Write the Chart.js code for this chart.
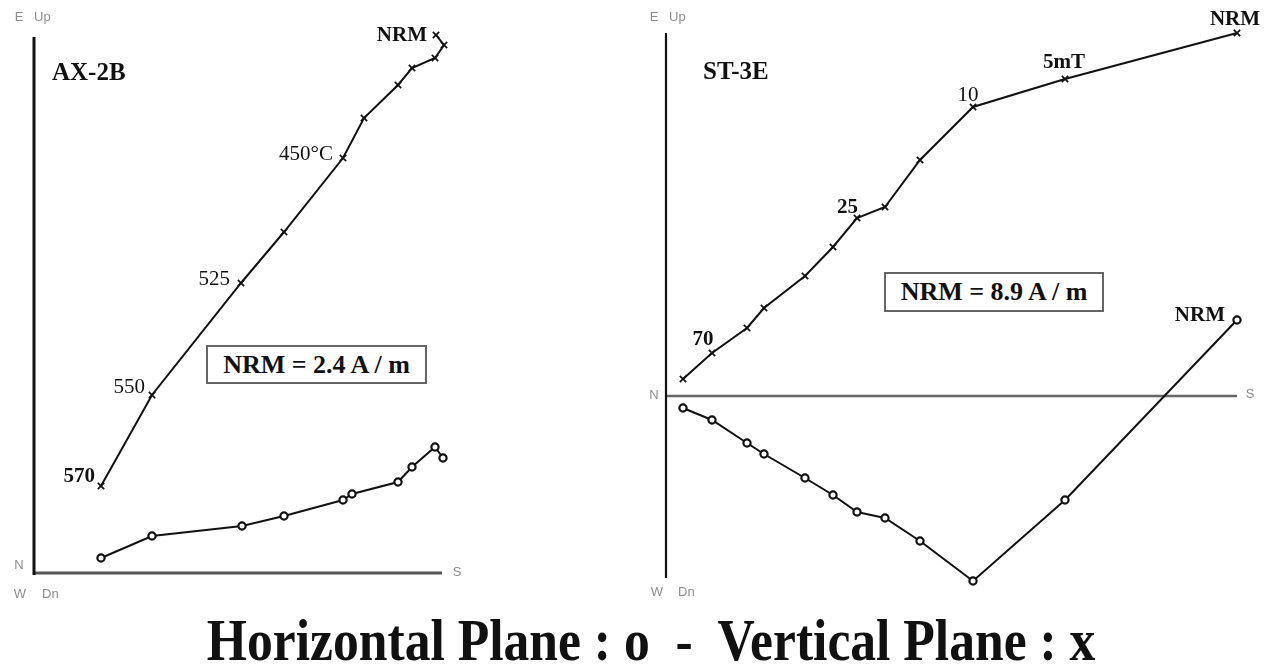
<!DOCTYPE html>
<html>
<head>
<meta charset="utf-8">
<title>Zijderveld diagrams AX-2B / ST-3E</title>
<script src="https://cdn.jsdelivr.net/npm/chart.js@4.4.1/dist/chart.umd.min.js"></script>
<style>
  html, body { margin: 0; padding: 0; background: #fff; }
  body { width: 1271px; height: 667px; position: relative; overflow: hidden; }
  canvas { position: absolute; top: 0; }
  #zLeft { left: 0; }
  #zRight { left: 630px; }
  .nrm-box {
    position: absolute; box-sizing: border-box;
    border: 2px solid #666; background: #fff;
    font: bold 26px "Liberation Serif", "Times New Roman", serif;
    color: #111; text-align: center; white-space: pre;
  }
  #title {
    position: absolute; left: 15px; width: 1271px; top: 610px;
    text-align: center; white-space: pre;
    font: bold 60px "Liberation Serif", "Times New Roman", serif;
    color: #111; transform: scaleX(0.86); transform-origin: 640px 0;
    line-height: 60px;
  }
</style>
</head>
<body>
<canvas id="zLeft" width="630" height="610"></canvas>
<canvas id="zRight" width="641" height="610"></canvas>
<div class="nrm-box" style="left:206px;top:345px;width:221px;height:39px;line-height:35px;">NRM = 2.4 A / m</div>
<div class="nrm-box" style="left:884px;top:272px;width:220px;height:40px;line-height:36px;">NRM = 8.9 A / m</div>
<div id="title">Horizontal Plane : o  -  Vertical Plane : x</div>
<script>
// ---- AX-2B (thermal demagnetisation), components in plot units ----
// vertical plane (N-S vs Up-Dn), NRM first
const axVertNS   = [402, 410, 401, 378, 364, 330, 309, 250, 207, 118, 67];
const axVertUp   = [538, 528, 515, 505, 488, 455, 415, 341, 290, 178, 87];
const axVertTags = ['NRM', '', '', '', '', '', '450°C', '', '525', '550', '570'];
// horizontal plane (N-S vs E-W)
const axHorNS    = [409, 401, 378, 364, 318, 309, 250, 208, 118, 67];
const axHorEW    = [115, 126, 106, 91, 79, 73, 57, 47, 37, 15];

// ---- ST-3E (alternating field demagnetisation), NRM first ----
const stNS       = [571, 399, 307, 254, 219, 191, 167, 139, 98, 81, 46, 17];
const stVertUp   = [363, 317, 289, 236, 189, 178, 149, 120, 88, 68, 43, 17];
const stHorEW    = [76, -104, -185, -145, -122, -116, -99, -82, -58, -47, -24, -12];
const stVertTags = ['NRM', '5mT', '10', '', '', '25', '', '', '', '', '70', ''];
const stHorTags  = ['NRM', '', '', '', '', '', '', '', '', '', '', ''];

const pts = (xs, ys) => xs.map((v, i) => ({ x: v, y: ys[i] }));

const vertStyle = {
  showLine: true, borderColor: '#111', borderWidth: 2,
  pointStyle: 'crossRot', pointRadius: 4.5, pointBorderWidth: 1.7,
  pointBorderColor: '#111', pointBackgroundColor: '#111', clip: false
};
const horStyle = {
  showLine: true, borderColor: '#111', borderWidth: 2,
  pointStyle: 'circle', pointRadius: 3.6, pointBorderWidth: 2.2,
  pointBorderColor: '#111', pointBackgroundColor: '#fff', clip: false
};

// Draws the crossing axes, their direction letters and the step labels.
const zijderveld = {
  id: 'zijderveld',
  beforeDatasetsDraw(chart, args, o) {
    const { ctx, scales: { x, y } } = chart;
    const x0 = x.getPixelForValue(0), y0 = y.getPixelForValue(0);
    ctx.save();
    ctx.lineCap = 'butt';
    ctx.strokeStyle = o.nsColor; ctx.lineWidth = o.nsWidth;
    ctx.beginPath();
    ctx.moveTo(x0, y0); ctx.lineTo(x.getPixelForValue(o.nsEnd), y0);
    ctx.stroke();
    ctx.strokeStyle = '#111'; ctx.lineWidth = o.udWidth;
    ctx.beginPath();
    ctx.moveTo(x0, y.getPixelForValue(o.udTop));
    ctx.lineTo(x0, y.getPixelForValue(o.udBottom));
    ctx.stroke();
    ctx.restore();
  },
  afterDatasetsDraw(chart, args, o) {
    const { ctx, scales: { x, y } } = chart;
    const x0 = x.getPixelForValue(0), y0 = y.getPixelForValue(0);
    const top = y.getPixelForValue(o.udTop), bot = y.getPixelForValue(o.udBottom);
    const xe = x.getPixelForValue(o.nsEnd);
    ctx.save();
    ctx.fillStyle = '#8c8c8c';
    ctx.font = '13px "Liberation Sans", Arial, sans-serif';
    ctx.textBaseline = 'middle';
    const d = o.dir;
    ctx.textAlign = 'center';
    ctx.fillText('E', x0 + d.e[0], top + d.e[1]);
    ctx.fillText('W', x0 + d.w[0], bot + d.w[1]);
    ctx.fillText('N', x0 + d.n[0], y0 + d.n[1]);
    ctx.fillText('S', xe + d.s[0], y0 + d.s[1]);
    ctx.textAlign = 'left';
    ctx.fillText('Up', x0 + d.up[0], top + d.up[1]);
    ctx.fillText('Dn', x0 + d.dn[0], bot + d.dn[1]);

    // specimen name
    ctx.fillStyle = '#111';
    ctx.font = 'bold 25px "Liberation Serif", "Times New Roman", serif';
    ctx.textAlign = 'left';
    ctx.fillText(o.name, x0 + o.nameAt[0], top + o.nameAt[1]);

    // demagnetisation step labels, anchored on their points
    o.tags.forEach(t => {
      const data = chart.data.datasets[t.ds].data;
      t.text.forEach((s, i) => {
        if (!s) return;
        const st = t.style[s] || {};
        const px = x.getPixelForValue(data[i].x), py = y.getPixelForValue(data[i].y);
        ctx.font = (st.bold ? 'bold ' : '') + '21px "Liberation Serif", "Times New Roman", serif';
        ctx.textAlign = st.align || 'center';
        ctx.fillText(s, px + st.dx, py + st.dy);
      });
    });
    ctx.restore();
  }
};

function makeChart(id, datasets, scaleX, scaleY, pad, opts) {
  return new Chart(document.getElementById(id), {
    type: 'scatter',
    data: { datasets },
    options: {
      responsive: false, animation: false,
      layout: { padding: pad },
      scales: {
        x: { type: 'linear', display: false, min: scaleX[0], max: scaleX[1] },
        y: { type: 'linear', display: false, min: scaleY[0], max: scaleY[1] }
      },
      plugins: { legend: { display: false }, tooltip: { enabled: false }, zijderveld: opts }
    },
    plugins: [zijderveld]
  });
}

makeChart('zLeft', [
  Object.assign({ label: 'Vertical plane', data: pts(axVertNS, axVertUp) }, vertStyle),
  Object.assign({ label: 'Horizontal plane', data: pts(axHorNS, axHorEW) }, horStyle)
], [0, 408], [0, 536], { left: 34, right: 188, top: 37, bottom: 37 }, {
  nsEnd: 408, udTop: 536, udBottom: -2, nsColor: '#555', nsWidth: 3, udWidth: 3,
  dir: { e: [-15, -20], up: [0, -20], w: [-14, 19], dn: [8, 19], n: [-15, -8], s: [15, -1] },
  name: 'AX-2B', nameAt: [18, 37],
  tags: [{ ds: 0, text: axVertTags, style: {
    'NRM': { bold: true, align: 'right', dx: -9, dy: 1 },
    '450°C': { align: 'right', dx: -10, dy: -4 },
    '525': { align: 'right', dx: -11, dy: -4 },
    '550': { align: 'right', dx: -7, dy: -8 },
    '570': { bold: true, align: 'right', dx: -6, dy: -9 }
  } }]
});

makeChart('zRight', [
  Object.assign({ label: 'Vertical plane', data: pts(stNS, stVertUp) }, vertStyle),
  Object.assign({ label: 'Horizontal plane', data: pts(stNS, stHorEW) }, horStyle)
], [0, 571], [-182, 363], { left: 36, right: 34, top: 33, bottom: 32 }, {
  nsEnd: 571, udTop: 363, udBottom: -182, nsColor: '#666', nsWidth: 2.5, udWidth: 2.2,
  dir: { e: [-12, -16], up: [3, -16], w: [-9, 14], dn: [12, 14], n: [-12, -1], s: [13, -2] },
  name: 'ST-3E', nameAt: [37, 40],
  tags: [
    { ds: 0, text: stVertTags, style: {
      'NRM': { bold: true, align: 'center', dx: -2, dy: -13 },
      '5mT': { bold: true, align: 'center', dx: -1, dy: -16 },
      '10': { align: 'center', dx: -5, dy: -12 },
      '25': { bold: true, align: 'right', dx: 1, dy: -10 },
      '70': { bold: true, align: 'center', dx: -9, dy: -13 }
    } },
    { ds: 1, text: stHorTags, style: {
      'NRM': { bold: true, align: 'right', dx: -12, dy: -4 }
    } }
  ]
});
</script>
</body>
</html>
